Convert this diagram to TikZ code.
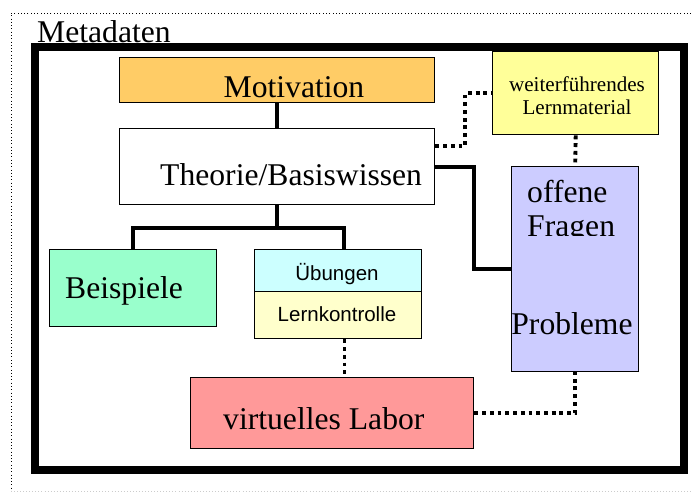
\documentclass[tikz,border=0pt]{standalone}
\usepackage{fontspec}
\setmainfont{Liberation Serif}
\setsansfont{Liberation Sans}
\usetikzlibrary{positioning}
\definecolor{motorange}{RGB}{255,204,102}
\definecolor{beigreen}{RGB}{153,255,204}
\definecolor{uebcyan}{RGB}{204,255,255}
\definecolor{lkyellow}{RGB}{255,255,204}
\definecolor{laborred}{RGB}{255,153,153}
\definecolor{weiyellow}{RGB}{255,255,153}
\definecolor{fraglila}{RGB}{204,204,255}

\begin{document}
\begin{tikzpicture}[
  x=0.03cm, y=-0.03cm,
  box/.style={draw, line width=1.2pt, inner sep=0pt, anchor=north west},
  big/.style={font=\fontsize{27}{30}\selectfont, inner sep=0pt},
  small/.style={font=\fontsize{18}{20}\selectfont, inner sep=0pt},
  smallsans/.style={font=\sffamily\fontsize{17.5}{20}\selectfont, inner sep=0pt},
  link/.style={line width=3.4pt},
  dotlink/.style={line width=3.3pt, dash pattern=on 3.3pt off 3.3pt},
]
\useasboundingbox (0,0) rectangle (691,492);

% Metadaten frame
\draw[dotted, line width=0.8pt] (691,13) -- (11,13) -- (11,491);
\draw[dotted, line width=0.6pt, gray!40] (11,491) -- (691,491);
\draw[line width=6.2pt] (35,47) rectangle (684,470);

% Boxes
\node[box, fill=motorange, minimum width=9.45cm, minimum height=1.35cm] (mot) at (119,57) {};
\node[box, fill=white, minimum width=9.45cm, minimum height=2.28cm] (theo) at (119,128) {};
\node[box, fill=beigreen, minimum width=5.01cm, minimum height=2.31cm] (bei) at (49,249) {};
\node[box, fill=uebcyan, minimum width=5.01cm, minimum height=1.26cm] (ueb) at (254,249) {};
\node[box, fill=lkyellow, minimum width=5.01cm, minimum height=1.41cm] (lk) at (254,291) {};
\node[box, fill=laborred, minimum width=8.49cm, minimum height=2.13cm] (labor) at (190,377) {};
\node[box, fill=weiyellow, minimum width=4.98cm, minimum height=2.49cm] (wei) at (492,51) {};
\node[box, fill=fraglila, minimum width=3.81cm, minimum height=6.15cm] (frag) at (511,166) {};

% Texts
\node[big, anchor=base west] (metaT) at (37,42) {Metadaten};
\node[big, anchor=base] (motT) at (294,97) {Motivation};
\node[big, anchor=base west] (theoT) at (160,185) {Theorie/Basiswissen};
\node[big, anchor=base west] (beiT) at (65,298) {Beispiele};
\node[smallsans, anchor=base] (uebT) at (337,280) {Übungen};
\node[smallsans, anchor=base] (lkT) at (337,321) {Lernkontrolle};
\node[big, anchor=base west] (laborT) at (223,429) {virtuelles Labor};
\node[small, anchor=base] (weiT) at (577,91) {weiterführendes};
\node[small, anchor=base] (weiT2) at (577,114) {Lernmaterial};
\node[big, anchor=base west] (fragT) at (527,202) {offene};
\begin{scope}
  \clip (511,166) rectangle (638,235);
  \node[big, anchor=base west] (fragT2) at (527,236) {Fragen};
\end{scope}
\node[big, anchor=base] (probT) at (572,334) {Probleme};

% Solid links
\draw[link] (mot.south) -- (theo.north);
\draw[link] (theo.south) -- ++(0,23) coordinate (fork);
\draw[link] (bei.north) |- (fork) -| ([xshift=0.17cm]ueb.north);
\draw[link] (theo.east) -- ++(39,0) |- (frag.west);

% Dotted links
\draw[dotlink] ([yshift=0.63cm]theo.east) -- ++(30,0) |- (wei.west);
\draw[dotlink] (wei.south) -- (frag.north);
\draw[dotlink] ([xshift=0.19cm]lk.south) -- ([xshift=0.19cm]lk.south |- labor.north);
\draw[dotlink] (labor.east) -| (frag.south);

\end{tikzpicture}
\end{document}
